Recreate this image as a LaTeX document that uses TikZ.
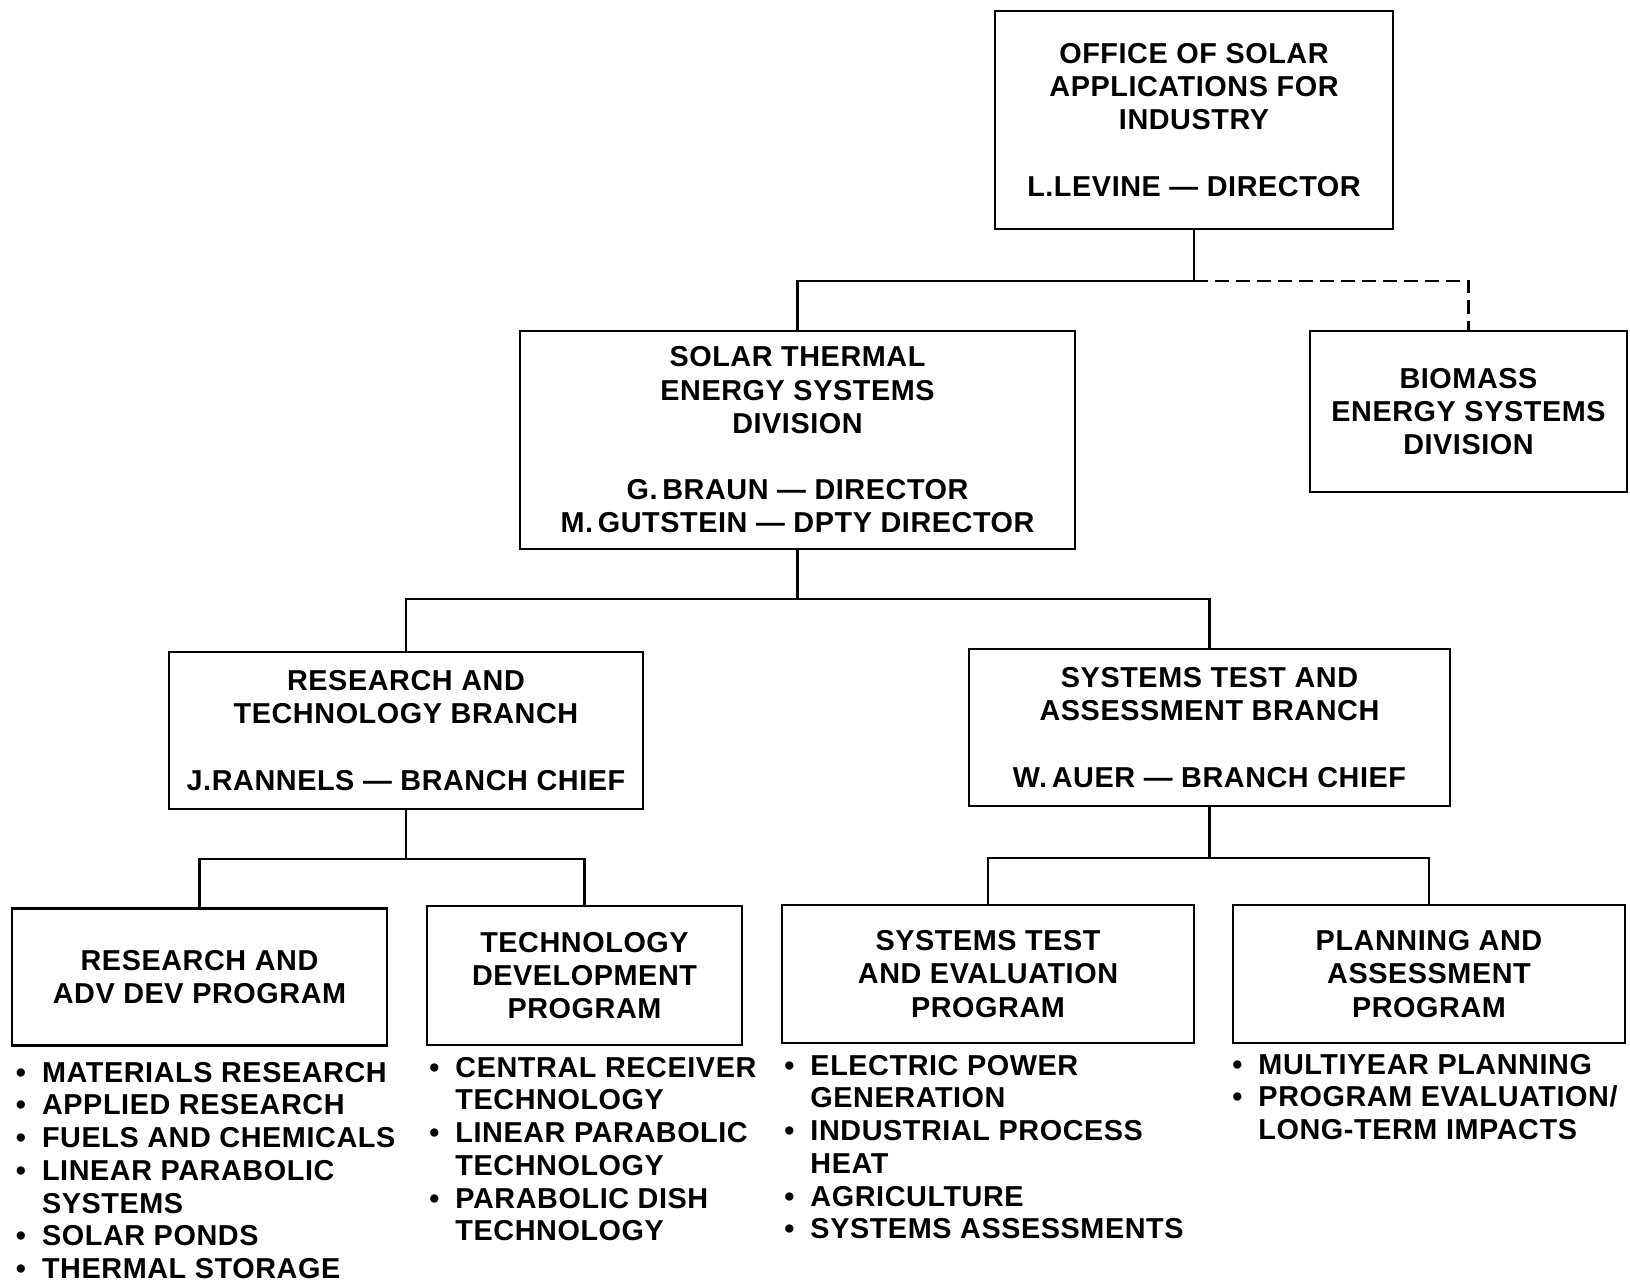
\documentclass[tikz,border=0pt]{standalone}
\usepackage{fontspec}
\setmainfont{Liberation Sans}[LetterSpace=2]
\newcommand{\orgfont}{\fontsize{14.4pt}{16.6pt}\selectfont\bfseries}
\newcommand{\listfont}{\fontsize{14.4pt}{16.38pt}\selectfont\bfseries}
\begin{document}
\begin{tikzpicture}[x=0.5pt,y=-0.5pt,
  orgbox/.style={draw, line width=1.4pt, inner sep=0pt, align=center, font=\orgfont},
  link/.style={line width=1.4pt},
  dashlink/.style={line width=1.4pt, dash pattern=on 7pt off 3.5pt},
  listnode/.style={anchor=base west, inner sep=0pt, font=\listfont}]
\useasboundingbox[fill=white] (0,0) rectangle (1630,1283);

\node[orgbox, minimum width=199pt, minimum height=109pt] (top) at (1194,120)
  {OFFICE OF SOLAR\\APPLICATIONS FOR\\INDUSTRY\\[16.6pt]L.LEVINE — DIRECTOR};
\node[orgbox, minimum width=277.5pt, minimum height=109pt] (st) at (797.5,440)
  {SOLAR THERMAL\\ENERGY SYSTEMS\\DIVISION\\[16.6pt]G.\,BRAUN — DIRECTOR\\M.\,GUTSTEIN — DPTY DIRECTOR};
\node[orgbox, minimum width=158.5pt, minimum height=80.5pt] (bio) at (1468.5,411.5)
  {BIOMASS\\ENERGY SYSTEMS\\DIVISION};
\node[orgbox, minimum width=237pt, minimum height=78.5pt] (rt) at (406,730.5)
  {RESEARCH AND\\TECHNOLOGY BRANCH\\[16.6pt]J.RANNELS — BRANCH CHIEF};
\node[orgbox, minimum width=240.5pt, minimum height=78.5pt] (sta) at (1209.5,727.5)
  {SYSTEMS TEST AND\\ASSESSMENT BRANCH\\[16.6pt]W.\,AUER — BRANCH CHIEF};
\node[orgbox, minimum width=187.5pt, minimum height=68.5pt] (rad) at (199.5,977)
  {RESEARCH AND\\ADV DEV PROGRAM};
\node[orgbox, minimum width=157.5pt, minimum height=69.5pt] (td) at (584.5,975.5)
  {TECHNOLOGY\\DEVELOPMENT\\PROGRAM};
\node[orgbox, minimum width=206pt, minimum height=69pt] (ste) at (988,974)
  {SYSTEMS TEST\\AND EVALUATION\\PROGRAM};
\node[orgbox, minimum width=196pt, minimum height=69pt] (pa) at (1429,974)
  {PLANNING AND\\ASSESSMENT\\PROGRAM};

\coordinate (j1) at (1194,281);
\coordinate (j2) at (797.5,599);
\coordinate (j3) at (406,859);
\coordinate (j4) at (1209.5,858);
\draw[link] (top.south) -- (j1) -| (st.north);
\draw[dashlink] (j1) -| (bio.north);
\draw[link] (st.south) -- (j2);
\draw[link] (rt.north) |- (j2) -| (sta.north);
\draw[link] (rt.south) -- (j3);
\draw[link] (rad.north) |- (j3) -| (td.north);
\draw[link] (sta.south) -- (j4);
\draw[link] (ste.north) |- (j4) -| (pa.north);

\node[listnode] (l1) at (15.6,1082) {\begin{tabular}[t]{@{}l@{\hspace{8pt}}l@{}}
\textbullet & MATERIALS RESEARCH\\
\textbullet & APPLIED RESEARCH\\
\textbullet & FUELS AND CHEMICALS\\
\textbullet & LINEAR PARABOLIC\\
 & SYSTEMS\\
\textbullet & SOLAR PONDS\\
\textbullet & THERMAL STORAGE
\end{tabular}};
\node[listnode] (l2) at (429,1077) {\begin{tabular}[t]{@{}l@{\hspace{8pt}}l@{}}
\textbullet & CENTRAL RECEIVER\\
 & TECHNOLOGY\\
\textbullet & LINEAR PARABOLIC\\
 & TECHNOLOGY\\
\textbullet & PARABOLIC DISH\\
 & TECHNOLOGY
\end{tabular}};
\node[listnode] (l3) at (784,1075) {\begin{tabular}[t]{@{}l@{\hspace{8pt}}l@{}}
\textbullet & ELECTRIC POWER\\
 & GENERATION\\
\textbullet & INDUSTRIAL PROCESS\\
 & HEAT\\
\textbullet & AGRICULTURE\\
\textbullet & SYSTEMS ASSESSMENTS
\end{tabular}};
\node[listnode] (l4) at (1232,1074) {\begin{tabular}[t]{@{}l@{\hspace{8pt}}l@{}}
\textbullet & MULTIYEAR PLANNING\\
\textbullet & PROGRAM EVALUATION/\\
 & LONG-TERM IMPACTS
\end{tabular}};
\end{tikzpicture}
\end{document}
